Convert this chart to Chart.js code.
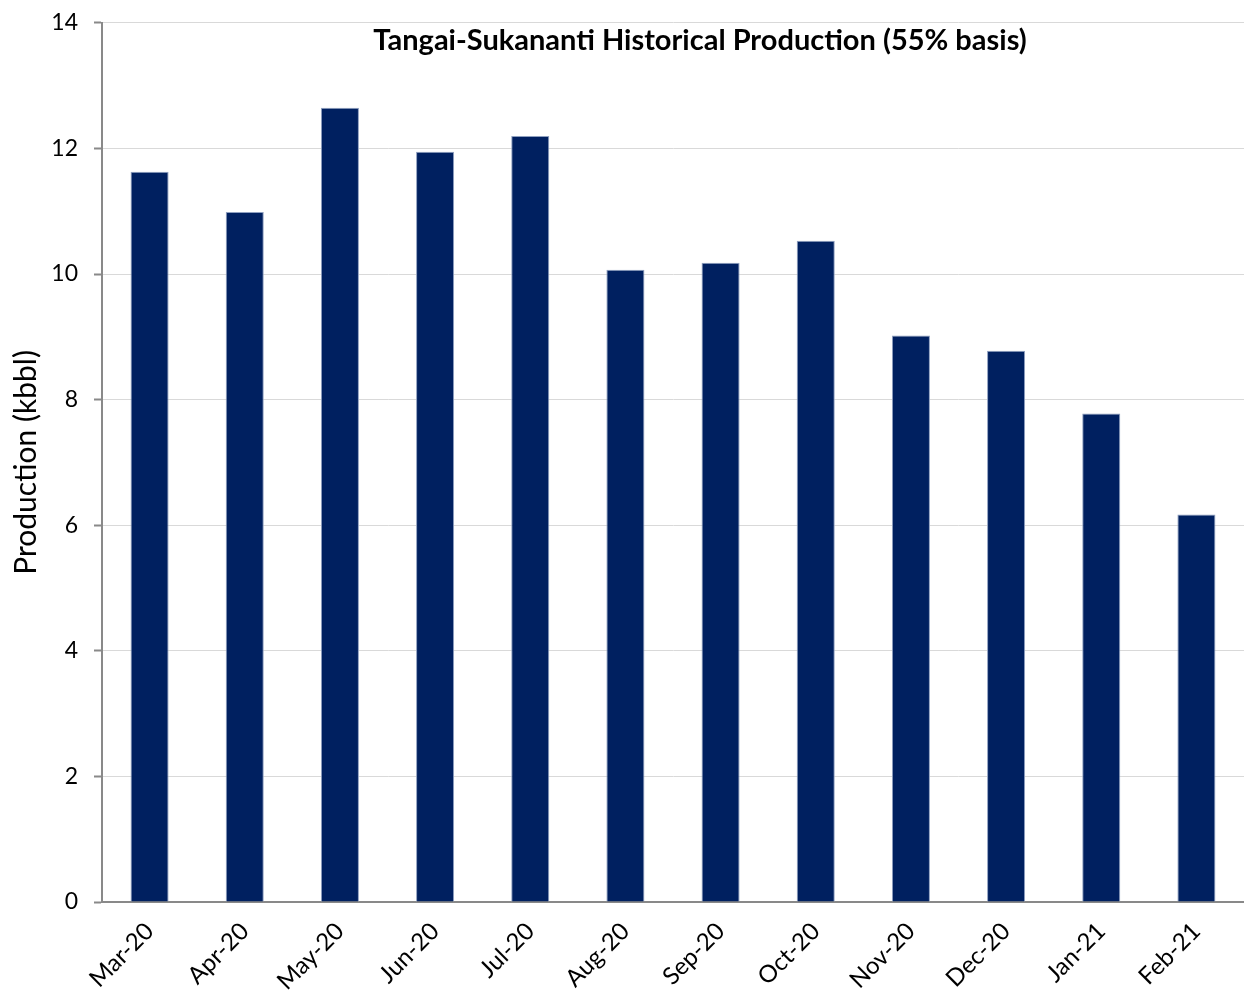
<!DOCTYPE html>
<html>
<head>
<meta charset="utf-8">
<script src="https://cdn.jsdelivr.net/npm/chart.js@4/dist/chart.umd.min.js"></script>
<style>
html,body{margin:0;padding:0;background:#fff;}
#wrap{width:1244px;height:996px;position:relative;}
</style>
</head>
<body>
<div id="wrap"><canvas id="c" width="1244" height="996"></canvas></div>
<script>
const categories = ["Mar-20","Apr-20","May-20","Jun-20","Jul-20","Aug-20","Sep-20","Oct-20","Nov-20","Dec-20","Jan-21","Feb-21"];
const production = [11.63, 10.99, 12.65, 11.95, 12.20, 10.07, 10.18, 10.53, 9.02, 8.78, 7.78, 6.17];
const chartTitle = "Tangai-Sukananti Historical Production (55% basis)";
const yAxisTitle = "Production (kbbl)";

const FONT = "Lato, 'Open Sans', 'Liberation Sans', sans-serif";

const titlePlugin = {
  id: 'insideTitle',
  afterDraw(chart) {
    const ctx = chart.ctx;
    const a = chart.chartArea;
    ctx.save();
    ctx.font = "bold 29px " + FONT;
    ctx.fillStyle = "#000";
    ctx.textAlign = "center";
    ctx.textBaseline = "middle";
    ctx.fillText(chartTitle, (a.left + a.right) / 2 + 27, a.top + 18);
    ctx.restore();
  }
};

new Chart(document.getElementById('c'), {
  type: 'bar',
  data: {
    labels: categories,
    datasets: [{
      data: production,
      backgroundColor: '#002060',
      borderColor: '#8fa0c0',
      borderWidth: 1,
      barPercentage: 0.4,
      categoryPercentage: 1.0
    }]
  },
  options: {
    responsive: false,
    animation: false,
    devicePixelRatio: 1,
    layout: { padding: { top: 22, right: 0, left: 0, bottom: 0 } },
    plugins: { legend: { display: false }, tooltip: { enabled: false }, title: { display: false } },
    scales: {
      x: {
        grid: { display: false, drawTicks: false },
        border: { display: true, color: '#898989', width: 2 },
        ticks: { color: '#000', font: { family: FONT, size: 24 }, maxRotation: 45, minRotation: 45, padding: 15 },
        afterFit(scale) { scale.height = 94; }
      },
      y: {
        min: 0, max: 14,
        ticks: { stepSize: 2, color: '#000', font: { family: FONT, size: 23, lineHeight: 0.6 }, padding: 16 },
        grid: { color: '#d9d9d9', lineWidth: 1, tickLength: 8, tickColor: '#898989', tickWidth: 2 },
        border: { display: true, color: '#898989', width: 2 },
        title: { display: true, text: yAxisTitle, color: '#000', font: { family: FONT, size: 30 }, padding: { top: 8, bottom: 0 } },
        afterFit(scale) { scale.width = 102; }
      }
    }
  },
  plugins: [titlePlugin]
});
</script>
</body>
</html>
